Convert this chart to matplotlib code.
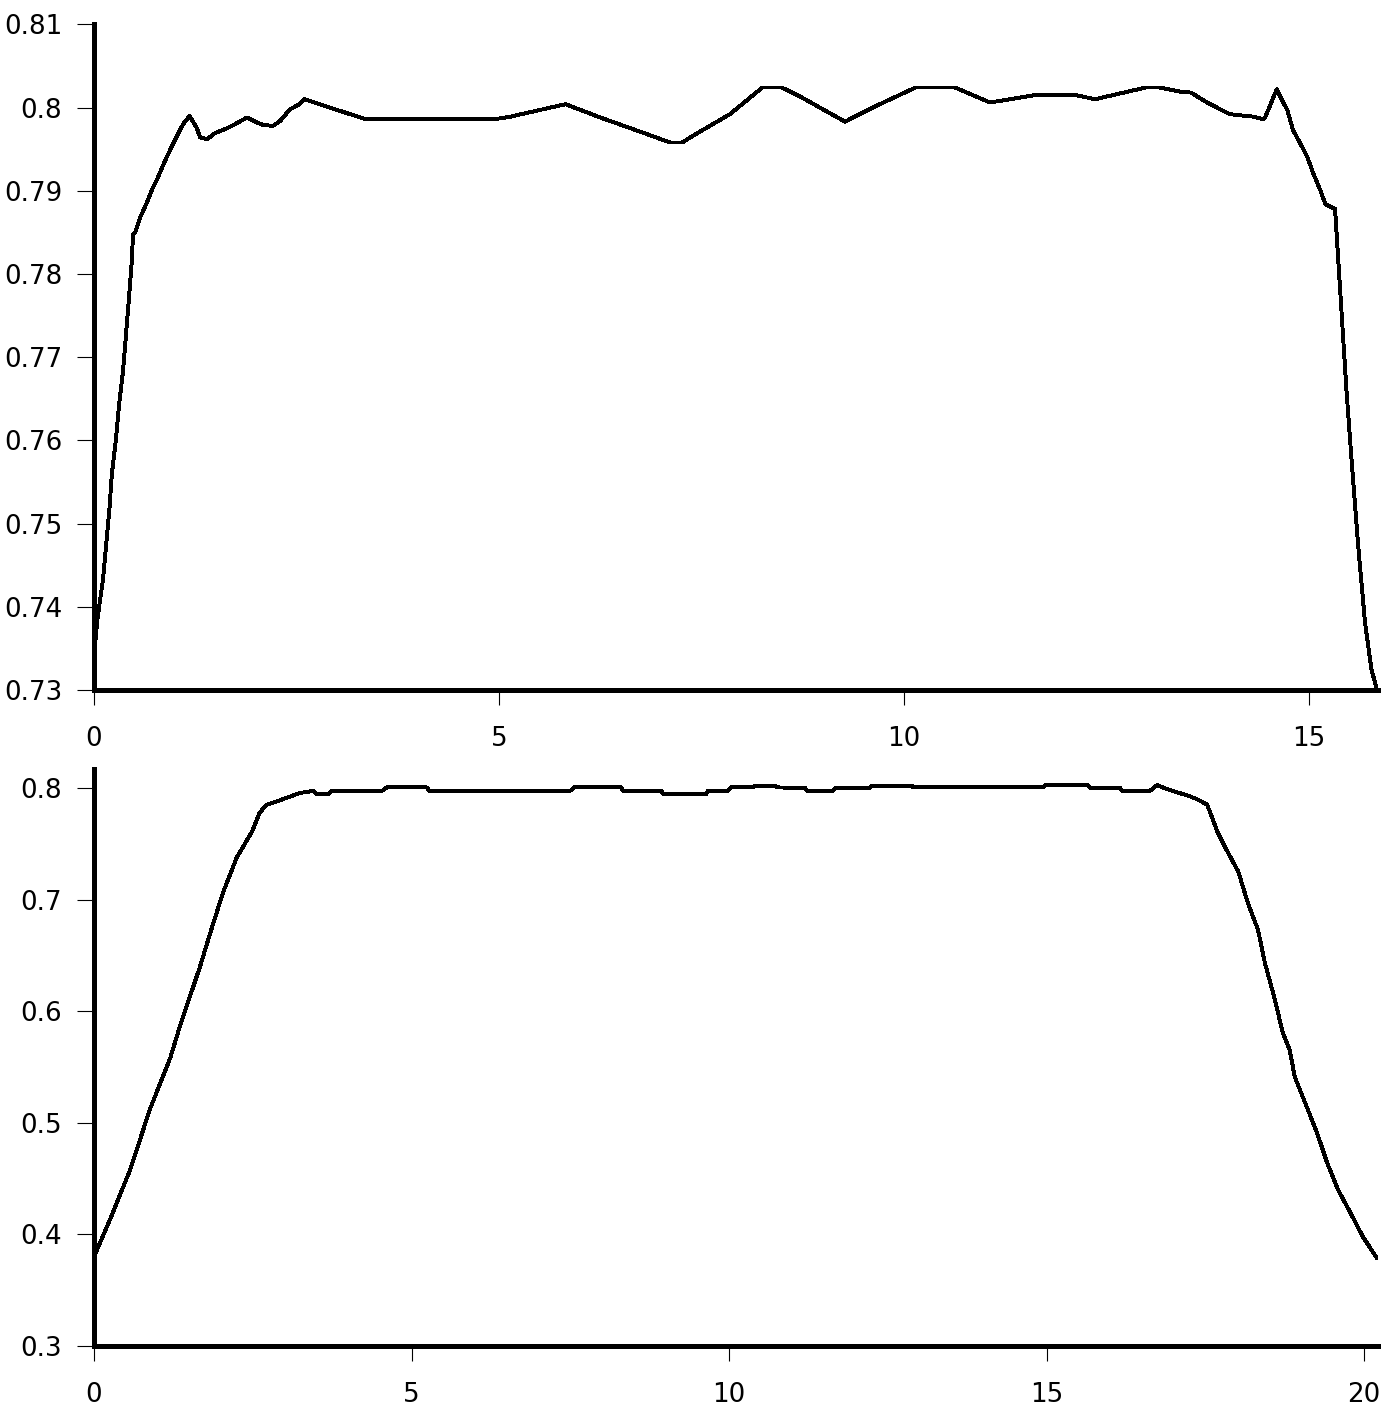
import matplotlib
matplotlib.use("Agg")
from matplotlib import pyplot as plt

# top curve
top_x = [0.0, 0.04, 0.11, 0.15, 0.19, 0.22, 0.27, 0.31, 0.36, 0.40, 0.43, 0.47, 0.48,
         0.51, 0.57, 0.65, 0.72, 0.78, 0.85, 0.91, 0.98, 1.04, 1.10, 1.18, 1.27, 1.31,
         1.40, 1.49, 1.64, 1.76, 1.89, 2.01, 2.09, 2.21, 2.30, 2.42, 2.52, 2.60, 2.91,
         3.35, 4.95, 5.14, 5.82, 6.25, 6.74, 7.11, 7.26, 7.48, 7.85, 8.25, 8.49, 8.72,
         9.27, 9.70, 10.14, 10.63, 11.06, 11.31, 11.62, 12.11, 12.36, 12.98, 13.16,
         13.41, 13.54, 13.74, 14.02, 14.31, 14.43, 14.46, 14.52, 14.60, 14.67, 14.73,
         14.80, 14.89, 14.98, 15.05, 15.14, 15.20, 15.32, 15.38, 15.46, 15.53, 15.61,
         15.69, 15.77, 15.84]
top_y = [0.7340, 0.7384, 0.7432, 0.7474, 0.7517, 0.7559, 0.7601, 0.7643, 0.7685, 0.7733,
         0.7769, 0.7820, 0.7847, 0.7850, 0.7868, 0.7885, 0.7902, 0.7914, 0.7930, 0.7943,
         0.7957, 0.7969, 0.7980, 0.7990, 0.7975, 0.7964, 0.7962, 0.7969, 0.7975, 0.7981,
         0.7988, 0.7982, 0.7979, 0.7978, 0.7984, 0.7998, 0.8003, 0.8010, 0.8000, 0.7986,
         0.7986, 0.7989, 0.8004, 0.7988, 0.7971, 0.7958, 0.7958, 0.7971, 0.7992, 0.8024,
         0.8024, 0.8013, 0.7983, 0.8004, 0.8024, 0.8024, 0.8006, 0.8010, 0.8015, 0.8015,
         0.8010, 0.8024, 0.8024, 0.8019, 0.8018, 0.8006, 0.7992, 0.7989, 0.7986, 0.7989,
         0.8003, 0.8022, 0.8008, 0.7997, 0.7973, 0.7957, 0.7940, 0.7921, 0.7900, 0.7884,
         0.7878, 0.7785, 0.7661, 0.7568, 0.7468, 0.7381, 0.7324, 0.7300]

# bottom curve
bot_x = [0.0, 0.25, 0.57, 0.88, 1.20, 1.35, 1.51, 1.67, 1.83, 2.03, 2.25, 2.49, 2.61,
         2.72, 2.93, 3.24, 3.45, 3.51, 3.69, 3.75, 4.54, 4.61, 5.24, 5.28, 7.50, 7.56,
         8.30, 8.33, 8.93, 8.97, 9.64, 9.67, 9.98, 10.03, 10.38, 10.41, 10.72, 10.76,
         11.20, 11.23, 11.64, 11.67, 12.22, 12.25, 12.88, 12.90, 14.94, 14.98, 15.65,
         15.69, 16.16, 16.19, 16.63, 16.74, 16.90, 17.06, 17.21, 17.37, 17.53, 17.69,
         17.84, 18.02, 18.17, 18.33, 18.44, 18.57, 18.72, 18.83, 18.91, 19.10, 19.26,
         19.42, 19.59, 19.78, 19.98, 20.20]
bot_y = [0.380, 0.413, 0.458, 0.512, 0.558, 0.586, 0.613, 0.640, 0.670, 0.706, 0.738,
         0.761, 0.778, 0.785, 0.789, 0.7955, 0.7973, 0.7946, 0.7946, 0.7975, 0.7975,
         0.8005, 0.8005, 0.7975, 0.7975, 0.8005, 0.8005, 0.7975, 0.7975, 0.7945, 0.7945,
         0.7975, 0.7975, 0.8005, 0.8005, 0.802, 0.802, 0.8005, 0.800, 0.7975, 0.7975,
         0.800, 0.800, 0.802, 0.802, 0.8005, 0.8005, 0.8025, 0.8025, 0.800, 0.800, 0.7975,
         0.7975, 0.8025, 0.799, 0.796, 0.7935, 0.790, 0.785, 0.761, 0.744, 0.725, 0.697,
         0.673, 0.643, 0.616, 0.581, 0.565, 0.541, 0.514, 0.491, 0.464, 0.440, 0.420,
         0.398, 0.379]

top_yticks = [0.73, 0.74, 0.75, 0.76, 0.77, 0.78, 0.79, 0.8, 0.81]
top_xticks = [0, 5, 10, 15]
bot_yticks = [0.3, 0.4, 0.5, 0.6, 0.7, 0.8]
bot_xticks = [0, 5, 10, 15, 20]

fig = plt.figure(figsize=(13.96, 14.19), dpi=100)
ax1 = fig.add_axes([94/1396, 1-690/1419, 1284/1396, 665.7/1419])
ax2 = fig.add_axes([94/1396, 1-1346/1419, 1284/1396, 577/1419])

def style(ax, xt, yt):
    for s in ["top", "right"]:
        ax.spines[s].set_visible(False)
    for s in ["left", "bottom"]:
        ax.spines[s].set_linewidth(2.3)
        ax.spines[s].set_antialiased(False)
    ax.set_xticks(xt)
    ax.set_xticklabels(["%g" % v for v in xt])
    ax.set_yticks(yt)
    ax.set_yticklabels(["%g" % v for v in yt])
    ax.tick_params(axis="y", length=12, width=0.8, pad=11, labelsize=18.8)
    ax.tick_params(axis="x", length=11, width=0.8, pad=15, labelsize=18.8)

ax1.plot(top_x, top_y, color="black", lw=2.1, antialiased=False)
ax1.set_xlim(0, 15.85)
ax1.set_ylim(0.73, 0.81)
style(ax1, top_xticks, top_yticks)

ax2.plot(bot_x, bot_y, color="black", lw=2.1, antialiased=False)
ax2.set_xlim(0, 20.22)
ax2.set_ylim(0.3, 0.817)
style(ax2, bot_xticks, bot_yticks)

fig.savefig("out.png", dpi=100)
